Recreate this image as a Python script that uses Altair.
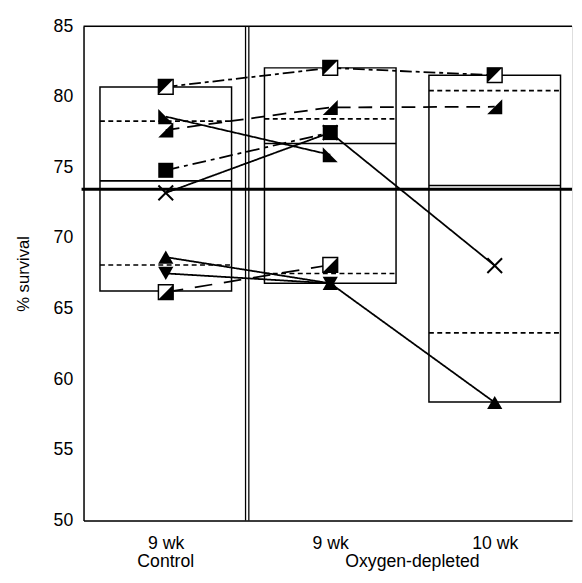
import altair as alt
import pandas as pd

# ---------------- data ----------------
positions = [1, 2, 3]
week_labels = ["9 wk", "9 wk", "10 wk"]
group_names = ["Control", "Oxygen-depleted"]
group_centers = [1, 2.5]

box_low = [66.25, 66.8, 58.4]
box_high = [80.7, 82.05, 81.53]
box_mean = [74.05, 76.7, 73.72]
box_dash_high = [78.28, 78.44, 80.44]
box_dash_low = [68.09, 67.5, 63.29]
grand_mean = [73.46]
separator = [1.485, 1.505]
y_ticks = [50, 55, 60, 65, 70, 75, 80, 85]

series_names = ["sq_upper", "tri_br", "tri_bl", "sq_filled", "cross", "tri_up", "tri_down", "sq_lower"]
s_sq_upper = [80.7, 82.05, 81.53]
s_tri_br = [77.65, 79.25, 79.3]
s_tri_bl = [78.6, 75.9, None]
s_sq_filled = [74.8, 77.47, None]
s_cross = [73.2, 77.47, 68.05]
s_tri_up = [68.65, 66.8, 58.36]
s_tri_down = [67.5, 66.8, None]
s_sq_lower = [66.17, 68.1, None]
series_values = [s_sq_upper, s_tri_br, s_tri_bl, s_sq_filled, s_cross, s_tri_up, s_tri_down, s_sq_lower]
series_dash = [[12, 4, 4, 4], [14, 8], [1, 0], [14, 5, 4, 5], [1, 0], [1, 0], [1, 0], [18, 12]]

# ---------------- tables ----------------
rows = []
for name, vals in zip(series_names, series_values):
    for p, v in zip(positions, vals):
        if v is not None:
            rows.append({"series": name, "pos": p, "val": v})
pts = pd.DataFrame(rows)

boxes = pd.DataFrame({
    "pos": positions,
    "lo": box_low, "hi": box_high, "mean": box_mean,
    "dhi": box_dash_high, "dlo": box_dash_low,
})
boxes["x1"] = boxes["pos"] - 0.4
boxes["x2"] = boxes["pos"] + 0.4

W, H = 498, 504
FONT = "Liberation Sans"

xs = alt.Scale(domain=[0.5, 3.47], nice=False, zero=False)
ys = alt.Scale(domain=[50, 85], nice=False, zero=False)

label_expr = " : ".join(
    f"datum.value == {p} ? '{l}'" for p, l in zip(positions[:-1], week_labels[:-1])
) + f" : '{week_labels[-1]}'"

x_axis = alt.Axis(values=positions, labelExpr=label_expr, ticks=False, grid=False,
                  title=None, labelFontSize=18, labelPadding=14, labelColor="black",
                  domainColor="black", domainWidth=1.5, labelFont=FONT)
y_axis = alt.Axis(values=y_ticks, ticks=False, grid=False, title="% survival",
                  titleFontSize=17, titleFontWeight="normal", titleColor="black",
                  titleFont=FONT, titlePadding=21, labelFontSize=18, labelPadding=11,
                  labelColor="black", labelFont=FONT, domainColor="black", domainWidth=1.5)


def X(f):
    return alt.X(f, scale=xs, axis=x_axis, title=None)


def Y(f):
    return alt.Y(f, scale=ys, axis=y_axis, title="% survival")


box_rect = alt.Chart(boxes).mark_rect(fillOpacity=0, stroke="black", strokeWidth=1.5).encode(
    x=X("x1:Q"), x2="x2:Q", y=Y("lo:Q"), y2="hi:Q",
)
mean_rule = alt.Chart(boxes).mark_rule(color="black", strokeWidth=1.6).encode(
    x=X("x1:Q"), x2="x2:Q", y=Y("mean:Q"))
dhi_rule = alt.Chart(boxes).mark_rule(color="black", strokeWidth=1.6, strokeDash=[5, 3.5]).encode(
    x=X("x1:Q"), x2="x2:Q", y=Y("dhi:Q"))
dlo_rule = alt.Chart(boxes).mark_rule(color="black", strokeWidth=1.6, strokeDash=[5, 3.5]).encode(
    x=X("x1:Q"), x2="x2:Q", y=Y("dlo:Q"))

gm = pd.DataFrame({"gm": grand_mean})
grand_rule = alt.Chart(gm).mark_rule(color="black", strokeWidth=3).encode(
    y=Y("gm:Q"), x=alt.value(-2), x2=alt.value(W))

top = pd.DataFrame({"t": [85]})
top_rule = alt.Chart(top).mark_rule(color="black", strokeWidth=1.5).encode(
    y=Y("t:Q"), x=alt.value(0), x2=alt.value(W))

sep = pd.DataFrame({"s": separator})
sep_rule = alt.Chart(sep).mark_rule(color="black", strokeWidth=1.3).encode(
    x=X("s:Q"), y=alt.value(0), y2=alt.value(H))

lines = alt.Chart(pts).mark_line(color="black", strokeWidth=1.8).encode(
    x=X("pos:Q"),
    y=Y("val:Q"),
    detail="series:N",
    strokeDash=alt.StrokeDash("series:N", scale=alt.Scale(domain=series_names, range=series_dash), legend=None),
)


def pts_of(name):
    return alt.Chart(pts).transform_filter(alt.datum.series == name)


def enc(ch):
    return ch.encode(x=X("pos:Q"), y=Y("val:Q"))


TRI_BR = "M1,-1L1,1L-1,1Z"
TRI_BL = "M-1,-1L-1,1L1,1Z"
TRI_TL = "M-1,-1L1,-1L-1,1Z"
XPATH = "M-1,-1L1,1M1,-1L-1,1"

markers = [
    enc(pts_of("sq_upper").mark_point(shape="square", filled=True, fill="white", stroke="black", strokeWidth=1.5, size=225, opacity=1)),
    enc(pts_of("sq_upper").mark_point(shape=TRI_TL, filled=True, color="black", size=225, opacity=1)),
    enc(pts_of("tri_br").mark_point(shape=TRI_BR, filled=True, color="black", size=235, opacity=1)),
    enc(pts_of("tri_bl").mark_point(shape=TRI_BL, filled=True, color="black", size=235, opacity=1)),
    enc(pts_of("sq_filled").mark_point(shape="square", filled=True, color="black", size=235, opacity=1)),
    enc(pts_of("cross").mark_point(shape=XPATH, filled=False, color="black", strokeWidth=2, size=225, opacity=1)),
    enc(pts_of("tri_up").mark_point(shape="triangle-up", filled=True, color="black", size=240, opacity=1)),
    enc(pts_of("tri_down").mark_point(shape="triangle-down", filled=True, color="black", size=240, opacity=1)),
    enc(pts_of("sq_lower").mark_point(shape="square", filled=True, fill="white", stroke="black", strokeWidth=1.5, size=225, opacity=1)),
    enc(pts_of("sq_lower").mark_point(shape=TRI_BR, filled=True, color="black", size=225, opacity=1)),
]

groups = pd.DataFrame({"gx": group_centers, "gname": group_names})
group_text = alt.Chart(groups).mark_text(fontSize=18, font=FONT, color="black", baseline="middle", align="center").encode(
    x=X("gx:Q"), y=alt.value(H + 42), text="gname:N")

chart = alt.layer(
    box_rect, mean_rule, dhi_rule, dlo_rule, sep_rule, top_rule, grand_rule, lines, *markers, group_text
).properties(
    width=W, height=H, padding={"left": 6, "top": 4, "right": 0, "bottom": 5}
).configure_view(stroke=None).configure(background="white")

chart.save("out.html", embed_options={"renderer": "svg", "actions": False})
